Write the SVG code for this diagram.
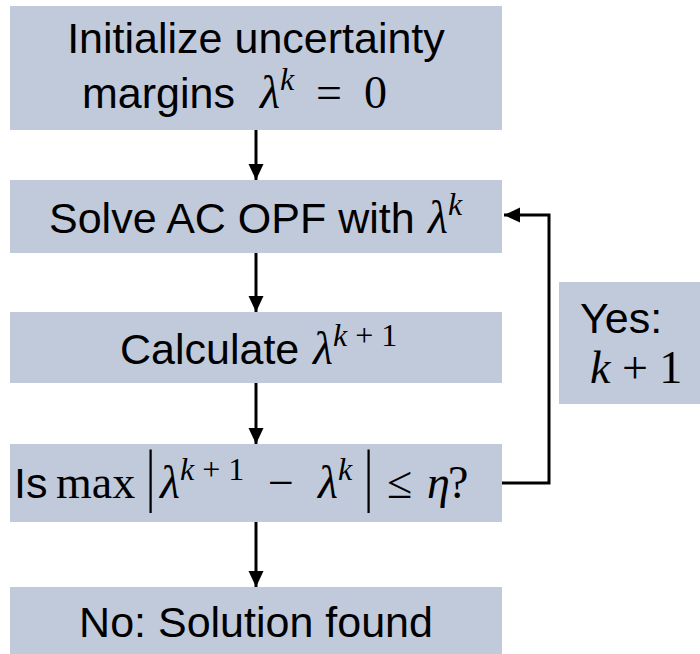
<svg xmlns="http://www.w3.org/2000/svg" width="700" height="654" viewBox="0 0 700 654">
<defs>
<style>
.box{fill:#c1cadb}
.t{font-family:"Liberation Sans",Arial,sans-serif;font-size:43px;fill:#000}
.m{font-family:"Liberation Serif","DejaVu Serif",serif;font-size:46px;fill:#000}
.i{font-style:italic}
.sup{font-size:32px}
.ln{stroke:#000;stroke-width:3;fill:none}
</style>
<marker id="ah" viewBox="0 0 16 16" refX="16" refY="8" markerWidth="16" markerHeight="16" markerUnits="userSpaceOnUse" orient="auto">
<path d="M0,0.5 L16,8 L0,15.5 Z" fill="#000"/>
</marker>
</defs>
<rect width="700" height="654" fill="#fff"/>
<g id="n1">
<rect class="box" x="10" y="6" width="492" height="124"/>
<text class="t" x="256" y="53" text-anchor="middle">Initialize uncertainty</text>
<text class="t" x="82" y="108">margins</text>
<text class="m i" x="260" y="108">λ<tspan class="sup" dy="-18">k</tspan></text>
<text class="m" x="316" y="108">=</text>
<text class="m" x="364" y="108">0</text>
</g>
<g id="n2">
<rect class="box" x="10" y="180" width="492" height="73"/>
<text class="t" x="49" y="233">Solve AC OPF with</text>
<text class="m i" x="428" y="233">λ<tspan class="sup" dy="-18">k</tspan></text>
</g>
<g id="n3">
<rect class="box" x="10" y="312" width="492" height="71"/>
<text class="t" x="120" y="364">Calculate</text>
<text class="m" x="313" y="364"><tspan class="i">λ</tspan><tspan class="sup i" dy="-18">k</tspan><tspan class="sup" xml:space="preserve"> + 1</tspan></text>
</g>
<g id="n4">
<rect class="box" x="10" y="444" width="492" height="78"/>
<text class="t" x="14" y="498">Is</text>
<text class="m" x="56" y="498">max</text>
<text class="m" transform="translate(146,498) scale(1,1.5)">|</text>
<text class="m" x="160" y="498"><tspan class="i">λ</tspan><tspan class="sup i" dy="-18">k</tspan><tspan class="sup" xml:space="preserve"> + 1</tspan></text>
<text class="m" x="268" y="498">−</text>
<text class="m" x="318" y="498"><tspan class="i">λ</tspan><tspan class="sup i" dy="-18">k</tspan></text>
<text class="m" transform="translate(364,498) scale(1,1.5)">|</text>
<text class="m" x="387" y="498">≤</text>
<text class="m i" x="427" y="498">η</text>
<text class="m" x="448" y="498">?</text>
</g>
<g id="n5">
<rect class="box" x="10" y="587" width="492" height="67"/>
<text class="t" x="256" y="637" text-anchor="middle">No: Solution found</text>
</g>
<g id="yes">
<rect class="box" x="559" y="282" width="141" height="122"/>
<text class="t" x="580" y="333">Yes:</text>
<text class="m" x="590" y="383"><tspan class="i">k</tspan> + 1</text>
</g>
<g id="connectors">
<line class="ln" x1="256" y1="130" x2="256" y2="180" marker-end="url(#ah)"/>
<line class="ln" x1="256" y1="253" x2="256" y2="312" marker-end="url(#ah)"/>
<line class="ln" x1="256" y1="383" x2="256" y2="444" marker-end="url(#ah)"/>
<line class="ln" x1="256" y1="522" x2="256" y2="587" marker-end="url(#ah)"/>
<polyline class="ln" points="502,483 549,483 549,215 504,215" marker-end="url(#ah)"/>
</g>
</svg>
